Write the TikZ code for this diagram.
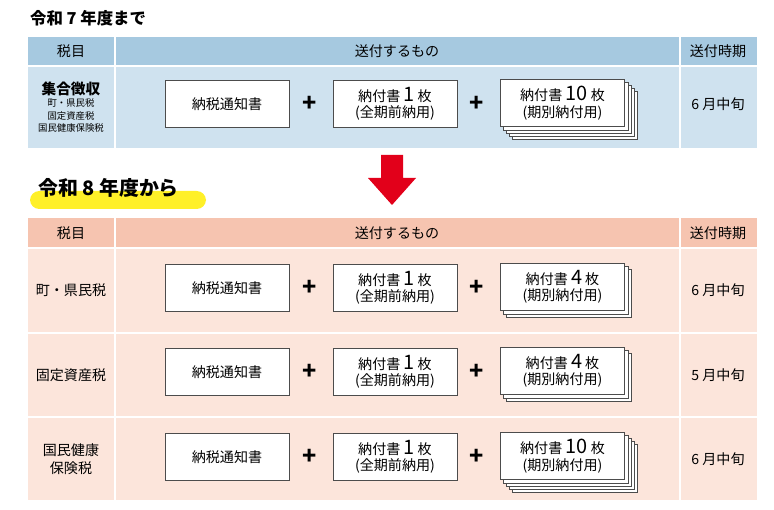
\documentclass[tikz,border=0pt]{standalone}
\usepackage{fontspec}
\setmainfont{Noto Sans CJK JP}
\usetikzlibrary{positioning}
\definecolor{bluehead}{RGB}{166,201,224}
\definecolor{bluerow}{RGB}{207,226,239}
\definecolor{pinkhead}{RGB}{246,196,176}
\definecolor{pinkrow}{RGB}{252,229,219}
\definecolor{arrowred}{RGB}{226,0,26}
\definecolor{hilite}{RGB}{255,240,40}
\tikzset{
	paper/.style    = {draw=black!70, fill=white, minimum width=106pt, minimum height=40pt,
		align=center, inner sep=0pt, font=\fontsize{12}{14}\selectfont},
	plus/.style     = {font=\fontsize{20}{20}\selectfont\bfseries},
	cell/.style     = {align=center, font=\fontsize{12}{15}\selectfont},
	headcell/.style = {cell}
}
% row of documents: y center, name prefix, count of sheets, number of back sheets
\newcommand{\payrow}[4]{
	\node at (227,#1) [paper] (#2n) {納税通知書};
	\node at (310,#1) [plus] (#2p1) {+};
	\node at (395,#1) [paper] (#2a) {納付書 {\fontsize{17}{17}\selectfont 1} 枚\\(全期前納用)};
	\node at (477,#1) [plus] (#2p2) {+};
	\foreach \k in {#4,...,1}
		\draw[draw=black!70, fill=white] (500+3*\k,#1-25+3*\k) rectangle ++(125,48);
	\node at (562.5,#1-1) [paper] (#2b) {納付書 {\fontsize{17}{17}\selectfont #3} 枚\\(期別納付用)};
}

\begin{document}
\begin{tikzpicture}[x=0.03cm, y=-0.03cm]
	\useasboundingbox (0,0) rectangle (774,510);
	% before
	\node at (26,18) [anchor=west, font=\fontsize{14}{14}\selectfont\bfseries] (oldtitle) {令和 7 年度まで};
	\fill[bluehead] (28,37) rectangle (757,66);
	\fill[bluerow] (28,66) rectangle (757,148);
	\draw[white, line width=1.2pt] (115,37) -- (115,148) (680,37) -- (680,148) (28,66) -- (757,66);
	\node at (71,51) [headcell] (oldh1) {税目};
	\node at (397,51) [headcell] (oldh2) {送付するもの};
	\node at (718,51) [headcell] (oldh3) {送付時期};
	\node at (71,107) [cell, font=\fontsize{8}{10.5}\selectfont] (oldtax) {{\fontsize{12.5}{15}\selectfont\bfseries 集合徴収}\\町・県民税\\固定資産税\\国民健康保険税};
	\payrow{104}{o}{10}{4}
	\node at (718,104) [cell] (oldtime) {6 月中旬};
	% arrow
	\fill[arrowred] (381,155) -- (403,155) -- (403,178) -- (416,178) -- (392,205) -- (368,178) -- (381,178) -- cycle;
	% after
	\fill[hilite, rounded corners=8] (30,191) rectangle (206,209);
	\node at (34,188) [anchor=west, font=\fontsize{17}{17}\selectfont\bfseries] (newtitle) {令和 8 年度から};
	\fill[pinkhead] (28,218) rectangle (757,248);
	\fill[pinkrow] (28,248) rectangle (757,500);
	\draw[white, line width=1.2pt] (115,218) -- (115,500) (680,218) -- (680,500)
		(28,248) -- (757,248) (28,333) -- (757,333) (28,417) -- (757,417);
	\node at (71,233) [headcell] (newh1) {税目};
	\node at (397,233) [headcell] (newh2) {送付するもの};
	\node at (718,233) [headcell] (newh3) {送付時期};
	\node at (71,290) [cell] (tax1) {町・県民税};
	\node at (71,375) [cell] (tax2) {固定資産税};
	\node at (71,459) [cell] (tax3) {国民健康\\保険税};
	\payrow{288}{a}{4}{2}
	\payrow{372}{b}{4}{2}
	\payrow{457}{c}{10}{4}
	\node at (718,290) [cell] (time1) {6 月中旬};
	\node at (718,375) [cell] (time2) {5 月中旬};
	\node at (718,459) [cell] (time3) {6 月中旬};
\end{tikzpicture}
\end{document}
